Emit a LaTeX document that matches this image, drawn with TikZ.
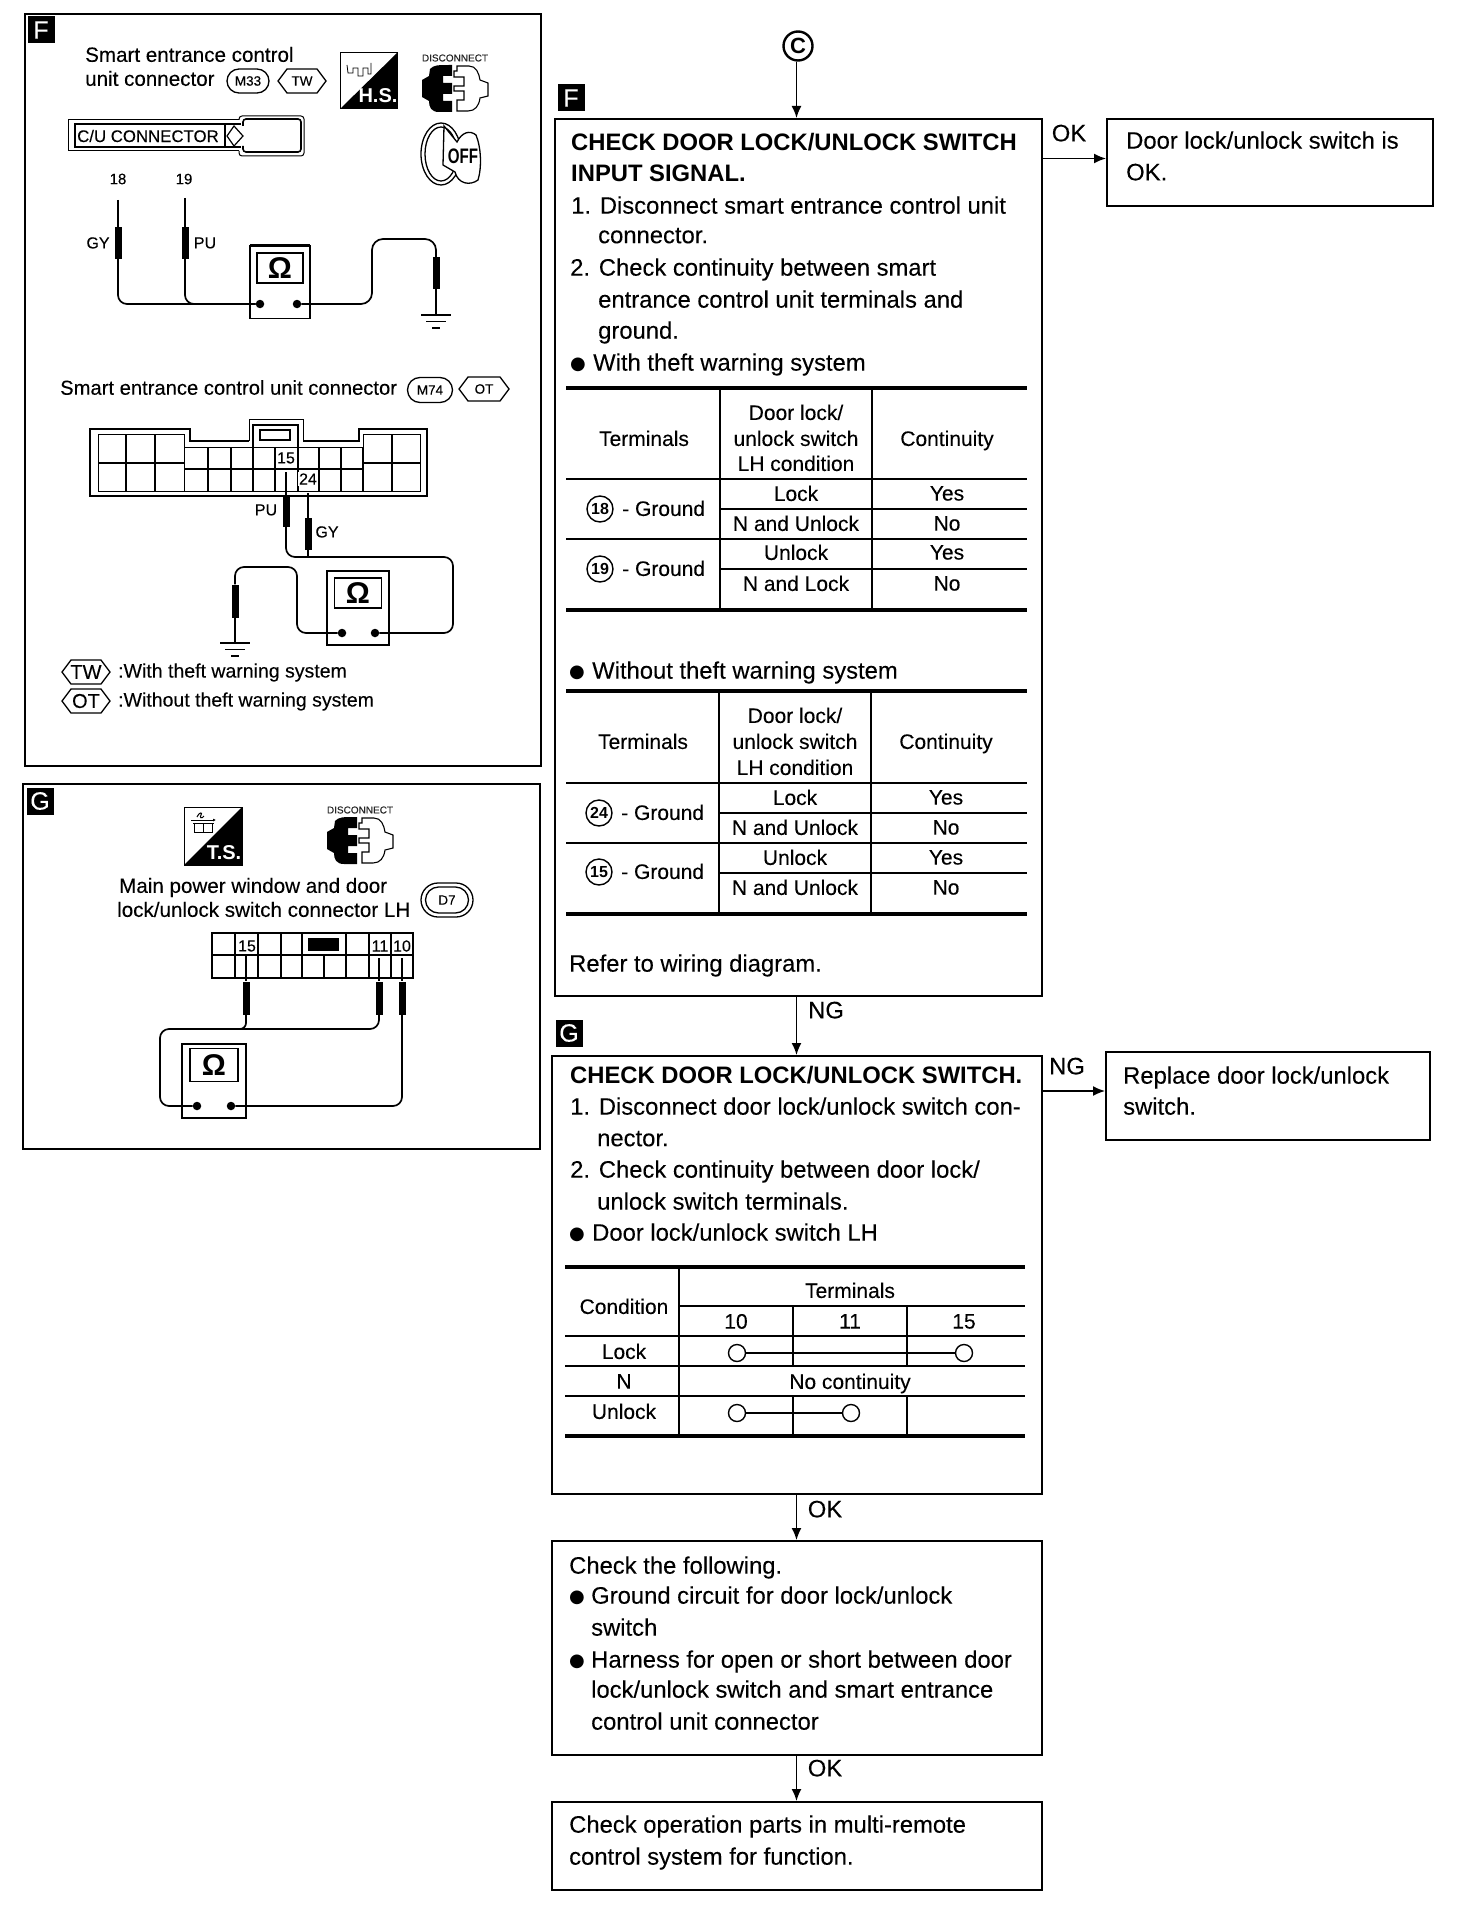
\documentclass[tikz,border=0pt]{standalone}
\usepackage{fontspec}
\setmainfont{Liberation Sans}[UprightFeatures={FakeBold=0.12}]
\newfontfamily\dv{DejaVu Sans}
\usetikzlibrary{arrows.meta,shapes.misc}
\newcounter{tn}
\tikzset{
  txt/.style={inner sep=0pt,font=\fontsize{23.8}{28}\selectfont},
  tbl/.style={font=\fontsize{21}{24}\selectfont},
  hd/.style={font=\fontsize{23.8}{28}\selectfont\bfseries},
  pan/.style={font=\fontsize{20.6}{24}\selectfont},
  tiny/.style={font=\fontsize{15}{18}\selectfont},
  mainbox/.style={draw,line width=2pt,minimum width=0pt,inner sep=0pt,anchor=north west},
  panel/.style={draw,line width=2pt,inner sep=0pt,anchor=north west},
  flow/.style={line width=1.6pt,-{Latex[length=12pt,width=10pt]}},
  thickrule/.style={line width=3.6pt},
  thinrule/.style={line width=1.8pt},
  wire/.style={line width=1.7pt},
  grid/.style={line width=1pt},
  gridh/.style={line width=1.8pt},
  probe/.style={fill=black,inner sep=0pt,minimum width=7pt},
  badge/.style={fill=black,text=white,inner sep=0pt,minimum size=27pt,font=\fontsize{25}{25}\selectfont},
  dotn/.style={circle,fill=black,inner sep=0pt,minimum size=8.5pt},
  numc/.style={draw,circle,line width=1.4pt,inner sep=0pt,minimum size=26pt,font=\fontsize{16}{16}\selectfont\bfseries},
  oval/.style={draw,rounded rectangle,line width=1.3pt,inner sep=0pt,font=\fontsize{13.5}{14}\selectfont},
  hexn/.style={inner sep=0pt},
  sw/.style={draw,circle,fill=white,line width=1.4pt,inner sep=0pt,minimum size=17pt},
}
\newcommand\Tl[4][]{\stepcounter{tn}\node[txt,anchor=west,#1] (t\arabic{tn}) at (#2,#3+1.5) {\vphantom{Ag}#4};}
\newcommand\Tc[4][]{\stepcounter{tn}\node[txt,anchor=center,#1] (t\arabic{tn}) at (#2,#3+1.5) {\vphantom{Ag}#4};}
\newcommand\Bul[2]{\stepcounter{tn}\node[txt,anchor=center] (t\arabic{tn}) at (#1,#2+1.5) {\fontsize{18}{20}\dv ●};}
% hexagon label: cx cy halfw halfh text fontsize
\newcommand\Hex[6]{\draw[line width=1.3pt] (#1-#3,#2) -- (#1-#3+9,#2-#4) -- (#1+#3-9,#2-#4) -- (#1+#3,#2) -- (#1+#3-9,#2+#4) -- (#1-#3+9,#2+#4) -- cycle;
  \stepcounter{tn}\node[hexn,font=\fontsize{#6}{#6}\selectfont] (t\arabic{tn}) at (#1,#2) {#5};}
% disconnect icon: x y (top-left of plug), 68 x 47
\newcommand\Discon[2]{\begin{scope}[shift={(#1,#2)}]
  \fill (9,4) .. controls (13,0) and (16,0) .. (31,0) -- (31,11) -- (22,11) -- (22,18) -- (31,18) -- (31,29) -- (22,29) -- (22,36) -- (31,36) -- (31,47) -- (18,47) .. controls (10,47) and (8,42) .. (8,36) -- (1,32) -- (1,15) -- (8,11) -- cycle;
  \draw[line width=1.1pt] (36,6) -- (36,1) -- (48,1) .. controls (55,1) and (58,8) .. (59,15) -- (67,18) -- (67,31) -- (59,33) .. controls (58,41) and (54,46) .. (47,46) -- (36,46) -- (36,35) -- (43,35) -- (43,26) -- (33,26) -- (33,21) -- (43,21) -- (43,12) -- (33,12) -- (33,6) -- cycle;
  \stepcounter{tn}\node[hexn,font=\fontsize{10}{10}\selectfont,text=black!85] (t\arabic{tn}) at (34,-7) {DISCONNECT};
\end{scope}}
\newcommand\Ground[2]{\draw[line width=1.7pt] (#1-15,#2) -- (#1+15,#2);\draw[line width=1.7pt] (#1-10,#2+6.5) -- (#1+10,#2+6.5);\draw[line width=1.7pt] (#1-4,#2+13) -- (#1+4,#2+13);}
\begin{document}
\begin{tikzpicture}[x=1pt,y=-1pt]
\useasboundingbox (0,0) rectangle (1456,1910);
\fill[white] (0,0) rectangle (1456,1910);

%%%% Left panel F
\node[panel,minimum width=516pt,minimum height=752pt] (panF) at (24,13) {};
\node[badge] (bF) at (41,30) {F};
\Tl[pan]{85}{55}{Smart entrance control}
\Tl[pan]{85}{79}{unit connector}
\node[oval,minimum width=42pt,minimum height=24pt] (m33) at (248,81) {M33};
\Hex{302}{81}{24}{12}{TW}{13.5}
% H.S. icon
\draw[line width=1pt] (340,53) rectangle (397,109);
\fill (340,109) -- (397,53) -- (397,109) -- cycle;
\node[hexn,text=white,font=\fontsize{20}{20}\selectfont\bfseries] (hs) at (378,96) {H.S.};
\draw[line width=.8pt] (347,65) -- (348,73) -- (353,73) -- (353,68) -- (358,68) -- (358,76) -- (363,76) -- (363,68) -- (368,68) -- (368,74) -- (371,74) -- (371,63);
% disconnect
\Discon{421}{65}
% OFF key
\begin{scope}[shift={(0,2)}]
\draw[line width=1.3pt] (441,152) ellipse (20 and 31);
\draw[line width=1.3pt] (441,152) ellipse (16 and 27);
\draw[fill=white,line width=1.3pt] (444,124) -- (457,140) .. controls (462,130) and (470,128) .. (476,133) .. controls (481,145) and (482,165) .. (478,178) .. controls (470,184) and (458,182) .. (455,170) -- (443,163) -- cycle;
\node[hexn,font=\fontsize{21}{21}\selectfont\bfseries,xscale=.72] (off) at (463,154) {OFF};
\end{scope}
% C/U connector
\begin{scope}[shift={(0,2)}]
\draw[line width=1pt] (239,118) -- (68,118) -- (68,149) -- (239,149);
\draw[line width=1.6pt] (241,122) -- (75,122) -- (75,145) -- (241,145);
\draw[line width=1.6pt] (225,122) -- (225,145);
\draw[line width=1.2pt] (234,124) -- (243,134) -- (234,144) -- (227,134) -- cycle;
\draw[line width=1pt,rounded corners=3pt] (239,118) -- (239,114) -- (304,114) -- (304,154) -- (239,154) -- (239,149);
\draw[line width=1.6pt,rounded corners=3pt] (243,124) -- (243,117) -- (301,117) -- (301,150) -- (243,150) -- (243,144);
\node[hexn,font=\fontsize{16.8}{20}\selectfont,anchor=west] (cu) at (77,134) {C/U CONNECTOR};
\end{scope}
% probes top
\Tc[tiny]{118}{179}{18}
\Tc[tiny]{184}{179}{19}
\Tc[font=\fontsize{16}{18}\selectfont]{98}{243}{GY}
\Tc[font=\fontsize{16}{18}\selectfont]{205}{243}{PU}
\node[draw,line width=1.1pt,minimum width=60pt,minimum height=73pt,inner sep=0pt] (mt1) at (280,282) {};
\node[draw,line width=1.1pt,minimum width=46pt,minimum height=30pt,inner sep=0pt,font=\fontsize{30}{30}\selectfont\bfseries] (om1) at (280,268) {Ω};
\draw[line width=2.4pt] (250,245.5) -- (310,245.5);
\node[dotn] (d1a) at (260,304) {};
\node[dotn] (d1b) at (297,304) {};
\node[probe,minimum height=32pt] (p18) at (118,243) {};
\node[probe,minimum height=32pt] (p19) at (185,243) {};
\node[probe,minimum height=32pt] (pg1) at (436,273) {};
\coordinate (p18t) at (118,200);
\coordinate (p19t) at (185,198);
\coordinate (g1) at (436,315);
\draw[wire] (p18t) -- (p18.north);
\draw[wire] (p19t) -- (p19.north);
\draw[wire,rounded corners=9pt] (p18.south) |- (d1a);
\draw[wire,rounded corners=9pt] (p19.south) |- (d1a);
\draw[wire,rounded corners=11pt] (d1b) -- (372,304) -- (372,239) -- (436,239) -- (pg1.north);
\draw[wire] (pg1.south) -- (g1);
\Ground{436}{315}
%
\Tl[font=\fontsize{20.2}{24}\selectfont]{60}{388}{Smart entrance control unit connector}
\node[oval,minimum width=45pt,minimum height=25pt] (m74) at (430,390) {M74};
\Hex{484}{389}{25}{12}{OT}{13.5}
% connector
\draw[line width=2pt] (90,429) -- (190,429) -- (190,441) -- (249,441);
\draw[line width=2pt] (303,441) -- (359,441) -- (359,429) -- (427,429) -- (427,496) -- (90,496) -- (90,428);
\draw[line width=.8pt] (249,441) -- (249,419) -- (303,419) -- (303,441);
\draw[line width=1.6pt] (253,447) -- (253,425) -- (298,425) -- (298,447);
\draw[line width=1.6pt] (260,430) rectangle (290,440);
\draw[grid] (98,434) rectangle (184,491);
\draw[grid] (184,447) rectangle (363,491);
\draw[grid] (363,434) rectangle (420,491);
\draw[gridh] (126,434) -- (126,491) (155,434) -- (155,491) (392,434) -- (392,491);
\foreach \v in {208,231,253,275,298,319,341,363}{\draw[gridh] (\v,447) -- (\v,491);}
\draw[gridh] (98,463) -- (184,463) (184,469) -- (363,469) (363,463) -- (420,463);
\node[fill=white,inner sep=1pt,font=\fontsize{16}{16}\selectfont] (n15a) at (286,458) {15};
\node[fill=white,inner sep=1pt,font=\fontsize{16}{16}\selectfont] (n24a) at (308,479) {24};
% probes F2
\node[probe,minimum height=32pt] (p15a) at (286,511) {};
\node[probe,minimum height=32pt] (p24a) at (308,534) {};
\node[probe,minimum height=33pt] (pg2) at (235,601) {};
\coordinate (p15at) at (286,472);
\coordinate (p24at) at (308,493);
\coordinate (g2) at (235,643);
\Tc[font=\fontsize{16}{18}\selectfont]{266}{510}{PU}
\Tc[font=\fontsize{16}{18}\selectfont]{327}{532}{GY}
\node[draw,line width=1.1pt,minimum width=62pt,minimum height=74pt,inner sep=0pt] (mt2) at (358,608) {};
\node[draw,line width=1.4pt,minimum width=47pt,minimum height=30pt,inner sep=0pt,font=\fontsize{30}{30}\selectfont\bfseries] (om2) at (358,593) {Ω};
\node[dotn] (d2a) at (342,633) {};
\node[dotn] (d2b) at (375,633) {};
\draw[wire] (p15at) -- (p15a.north);
\draw[wire] (p24at) -- (p24a.north);
\draw[wire] (p24a.south) -- (p24a.south |- 0,557);
\draw[wire,rounded corners=9pt] (p15a.south) -- (286,557) -- (453,557) -- (453,633) -- (d2b);
\draw[wire,rounded corners=9pt] (d2a) -- (297,633) -- (297,567) -- (235,567) -- (pg2.north);
\draw[wire] (pg2.south) -- (g2);
\Ground{235}{643}
% legend
\Hex{86}{672}{24}{12}{TW}{20}
\Tl[font=\fontsize{19.5}{24}\selectfont]{118}{671}{:With theft warning system}
\Hex{86}{701}{24}{12}{OT}{20}
\Tl[font=\fontsize{19.5}{24}\selectfont]{118}{700}{:Without theft warning system}

%%%% Left panel G
\node[panel,minimum width=517pt,minimum height=365pt] (panG) at (22,783) {};
\node[badge] (bG) at (40,801) {G};
\draw[line width=1pt] (184,807) rectangle (242,865);
\fill (184,865) -- (242,807) -- (242,865) -- cycle;
\node[hexn,text=white,font=\fontsize{20}{20}\selectfont\bfseries] (ts) at (224,853) {T.S.};
\draw[line width=.8pt] (193,823) -- (214,823) (194,823) rectangle (203,832) (203,823) rectangle (212,832);
\draw[line width=.8pt,-{Latex[length=3pt,width=3pt]}] (191,820) -- (216,820);
\draw[line width=1pt] (197,817) .. controls (199,812) and (203,812) .. (201,815) .. controls (199,818) and (202,819) .. (204,816);
\Discon{326}{817}
\Tl[pan]{119}{886}{Main power window and door}
\Tl[pan]{117}{910}{lock/unlock switch connector LH}
\node[oval,minimum width=52pt,minimum height=34pt] (d7o) at (447,900) {};
\node[oval,minimum width=43pt,minimum height=26pt] (d7) at (447,900) {D7};
% connector G
\draw[line width=1.2pt] (212,933) rectangle (413,978);
\draw[gridh] (212,955) -- (413,955);
\foreach \v in {235,258,281,302,346,369,391}{\draw[gridh] (\v,933) -- (\v,978);}
\draw[gridh] (324,955) -- (324,978);
\fill (308,938) rectangle (339,951);
\node[fill=white,inner sep=.5pt,font=\fontsize{16}{16}\selectfont] (n15g) at (247,946) {15};
\node[fill=white,inner sep=.5pt,font=\fontsize{16}{16}\selectfont] (n11g) at (380,946) {11};
\node[fill=white,inner sep=.5pt,font=\fontsize{16}{16}\selectfont] (n10g) at (402,946) {10};
\node[probe,minimum height=33pt] (p15g) at (246,998) {};
\node[probe,minimum height=33pt] (p11g) at (379,998) {};
\node[probe,minimum height=33pt] (p10g) at (402,998) {};
\coordinate (p15gt) at (246,954);
\coordinate (p11gt) at (379,958);
\coordinate (p10gt) at (402,958);
\node[draw,line width=1.1pt,minimum width=64pt,minimum height=74pt,inner sep=0pt] (mt3) at (214,1081) {};
\node[draw,line width=1.4pt,minimum width=48pt,minimum height=33pt,inner sep=0pt,font=\fontsize{30}{30}\selectfont\bfseries] (om3) at (214,1065) {Ω};
\node[dotn] (d3a) at (197,1106) {};
\node[dotn] (d3b) at (231,1106) {};
\draw[wire] (p15gt) -- (p15g.north);
\draw[wire] (p11gt) -- (p11g.north);
\draw[wire] (p10gt) -- (p10g.north);
\draw[wire,rounded corners=9pt] (p11g.south) -- (379,1029) -- (160,1029) -- (160,1106) -- (d3a);
\draw[wire,rounded corners=6pt] (p15g.south) -- (246,1029) -- (235,1029);
\draw[wire,rounded corners=9pt] (p10g.south) -- (402,1106) -- (d3b);

%%%% Flow chart
\node[draw,circle,line width=2.4pt,inner sep=0pt,minimum size=29pt,font=\fontsize{22}{22}\selectfont\bfseries] (cC) at (798,46) {C};
\node[badge] (bF2) at (571,98) {F};
\node[mainbox,minimum width=487pt,minimum height=877pt] (boxF) at (554,118) {};
\node[mainbox,minimum width=326pt,minimum height=87pt] (boxOK) at (1106,118) {};
\node[badge] (bG2) at (569,1033) {G};
\node[mainbox,minimum width=490pt,minimum height=438pt] (boxG) at (551,1055) {};
\node[mainbox,minimum width=324pt,minimum height=88pt] (boxNG) at (1105,1051) {};
\node[mainbox,minimum width=490pt,minimum height=214pt] (boxC) at (551,1540) {};
\node[mainbox,minimum width=490pt,minimum height=88pt] (boxD) at (551,1801) {};

\draw[flow] ([xshift=-2pt]cC.south -| boxF.north) -- ([xshift=-2pt]boxF.north);
\draw[flow] ([xshift=-2pt]boxF.south) -- ([xshift=-2pt]boxF.south |- boxG.north);
\draw[flow] ([xshift=-.5pt]boxG.south) -- ([xshift=-.5pt]boxG.south |- boxC.north);
\draw[flow] ([xshift=-.5pt]boxC.south) -- ([xshift=-.5pt]boxC.south |- boxD.north);
\draw[flow] ([yshift=4pt]boxF.east |- boxOK.west) -- ([yshift=4pt]boxOK.west);
\draw[flow] ([yshift=5pt]boxG.east |- boxNG.west) -- ([yshift=5pt]boxNG.west);
\Tc{1069}{134}{OK}
\Tc{826}{1011}{NG}
\Tc{1067}{1067}{NG}
\Tc{825}{1510}{OK}
\Tc{825}{1769}{OK}

\Tl{1126}{141}{Door lock/unlock switch is}
\Tl{1126}{173}{OK.}
\Tl{1123}{1076}{Replace door lock/unlock}
\Tl{1123}{1107}{switch.}

% Box F text
\Tl[hd]{571}{143}{CHECK DOOR LOCK/UNLOCK SWITCH}
\Tl[hd]{571}{174}{INPUT SIGNAL.}
\Tl{571}{206}{1. Disconnect smart entrance control unit}
\Tl{598}{236}{connector.}
\Tl{570}{268}{2. Check continuity between smart}
\Tl{598}{300}{entrance control unit terminals and}
\Tl{598}{331}{ground.}
\Bul{578}{363}
\Tl{593}{363}{With theft warning system}
% Table 1
\draw[thickrule] (566,388) -- (1027,388);
\draw[thickrule] (566,610) -- (1027,610);
\draw[thinrule] (566,479) -- (1027,479) (720,509) -- (1027,509) (566,539) -- (1027,539) (720,569) -- (1027,569);
\draw[thinrule] (720,388) -- (720,610) (872,388) -- (872,610);
\Tc[tbl]{644}{439}{Terminals}
\Tc[tbl]{796}{413}{Door lock/}
\Tc[tbl]{796}{439}{unlock switch}
\Tc[tbl]{796}{464}{LH condition}
\Tc[tbl]{947}{439}{Continuity}
\node[numc] (c18) at (600,509) {18};
\Tl[tbl]{622}{509}{- Ground}
\node[numc] (c19) at (600,569) {19};
\Tl[tbl]{622}{569}{- Ground}
\Tc[tbl]{796}{494}{Lock}
\Tc[tbl]{796}{524}{N and Unlock}
\Tc[tbl]{796}{553}{Unlock}
\Tc[tbl]{796}{584}{N and Lock}
\Tc[tbl]{947}{494}{Yes}
\Tc[tbl]{947}{524}{No}
\Tc[tbl]{947}{553}{Yes}
\Tc[tbl]{947}{584}{No}
\Bul{577}{671}
\Tl{592}{671}{Without theft warning system}
% Table 2
\draw[thickrule] (566,691) -- (1027,691);
\draw[thickrule] (566,914) -- (1027,914);
\draw[thinrule] (566,783) -- (1027,783) (719,813) -- (1027,813) (566,843) -- (1027,843) (719,873) -- (1027,873);
\draw[thinrule] (719,691) -- (719,914) (871,691) -- (871,914);
\Tc[tbl]{643}{742}{Terminals}
\Tc[tbl]{795}{716}{Door lock/}
\Tc[tbl]{795}{742}{unlock switch}
\Tc[tbl]{795}{768}{LH condition}
\Tc[tbl]{946}{742}{Continuity}
\node[numc] (c24) at (599,813) {24};
\Tl[tbl]{621}{813}{- Ground}
\node[numc] (c15) at (599,872) {15};
\Tl[tbl]{621}{872}{- Ground}
\Tc[tbl]{795}{798}{Lock}
\Tc[tbl]{795}{828}{N and Unlock}
\Tc[tbl]{795}{858}{Unlock}
\Tc[tbl]{795}{888}{N and Unlock}
\Tc[tbl]{946}{798}{Yes}
\Tc[tbl]{946}{828}{No}
\Tc[tbl]{946}{858}{Yes}
\Tc[tbl]{946}{888}{No}
\Tl{569}{964}{Refer to wiring diagram.}

% Box G text
\Tl[hd]{570}{1076}{CHECK DOOR LOCK/UNLOCK SWITCH.}
\Tl{570}{1107}{1. Disconnect door lock/unlock switch con-}
\Tl{597}{1139}{nector.}
\Tl{570}{1170}{2. Check continuity between door lock/}
\Tl{597}{1202}{unlock switch terminals.}
\Bul{577}{1233}
\Tl{592}{1233}{Door lock/unlock switch LH}
% Table G
\draw[thickrule] (565,1267) -- (1025,1267);
\draw[thickrule] (565,1436) -- (1025,1436);
\draw[thinrule] (679,1306) -- (1025,1306) (565,1336) -- (1025,1336) (565,1366) -- (1025,1366) (565,1396) -- (1025,1396);
\draw[thinrule] (679,1267) -- (679,1436);
\draw[thinrule] (793,1306) -- (793,1366) (907,1306) -- (907,1366) (793,1396) -- (793,1436) (907,1396) -- (907,1436);
\Tc[tbl]{624}{1307}{Condition}
\Tc[tbl]{850}{1291}{Terminals}
\Tc[tbl]{736}{1322}{10}
\Tc[tbl]{850}{1322}{11}
\Tc[tbl]{964}{1322}{15}
\Tc[tbl]{624}{1352}{Lock}
\Tc[tbl]{624}{1382}{N}
\Tc[tbl]{850}{1382}{No continuity}
\Tc[tbl]{624}{1412}{Unlock}
\node[sw] (s1) at (737,1353) {};
\node[sw] (s2) at (964,1353) {};
\node[sw] (s3) at (737,1413) {};
\node[sw] (s4) at (851,1413) {};
\draw[thinrule] (s1) -- (s2);
\draw[thinrule] (s3) -- (s4);

% Box C text
\Tl{569}{1566}{Check the following.}
\Bul{577}{1596}
\Tl{591}{1596}{Ground circuit for door lock/unlock}
\Tl{591}{1628}{switch}
\Bul{577}{1660}
\Tl{591}{1660}{Harness for open or short between door}
\Tl{591}{1690}{lock/unlock switch and smart entrance}
\Tl{591}{1722}{control unit connector}
% Box D text
\Tl{569}{1825}{Check operation parts in multi-remote}
\Tl{569}{1857}{control system for function.}
\end{tikzpicture}
\end{document}
